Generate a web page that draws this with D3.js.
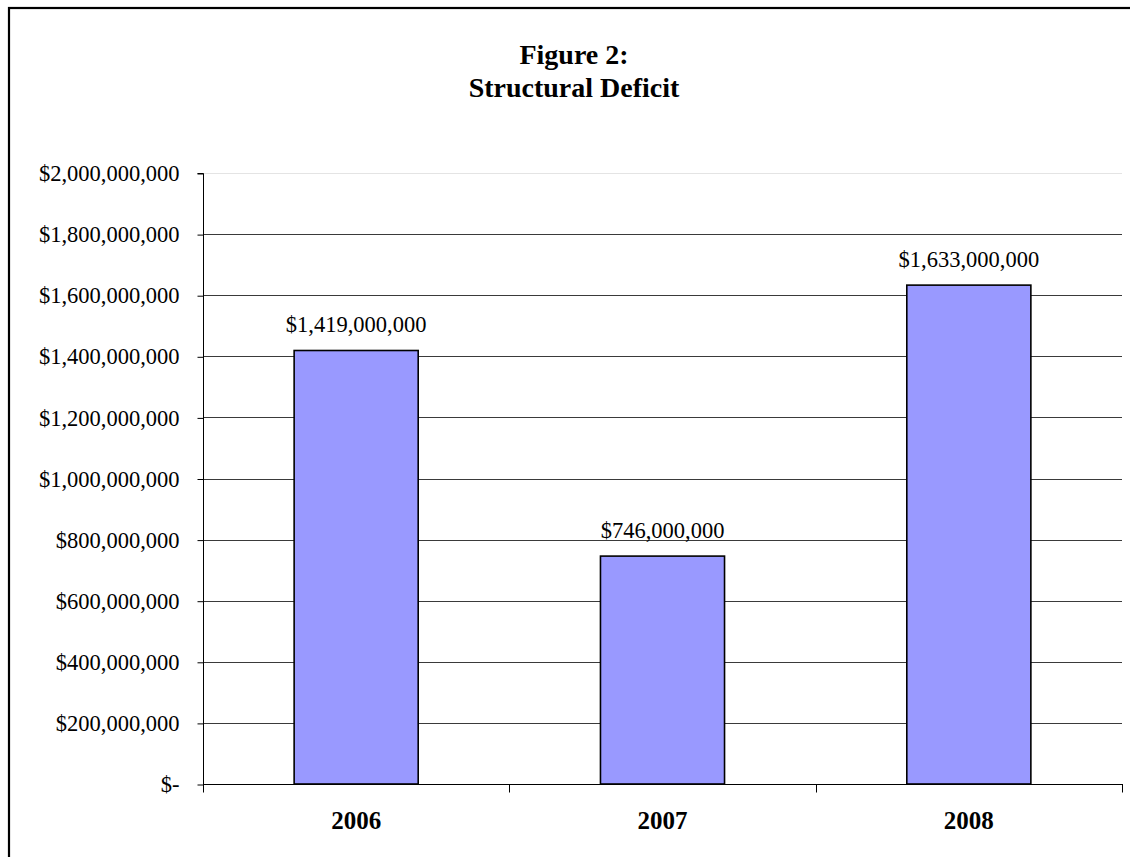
<!DOCTYPE html>
<html>
<head>
<meta charset="utf-8">
<script src="https://cdn.jsdelivr.net/npm/d3@7"></script>
<style>
html, body { margin: 0; padding: 0; background: #fff; }
svg { display: block; }
</style>
</head>
<body>
<svg id="chart" width="1130" height="857"></svg>
<script>
const categories = ["2006", "2007", "2008"];
const values = [1419000000, 746000000, 1633000000];
const valueLabels = ["$1,419,000,000", "$746,000,000", "$1,633,000,000"];
const yTickValues = [0, 200000000, 400000000, 600000000, 800000000, 1000000000, 1200000000, 1400000000, 1600000000, 1800000000, 2000000000];
const yTickLabels = ["$-", "$200,000,000", "$400,000,000", "$600,000,000", "$800,000,000", "$1,000,000,000", "$1,200,000,000", "$1,400,000,000", "$1,600,000,000", "$1,800,000,000", "$2,000,000,000"];
const titleLines = ["Figure 2:", "Structural Deficit"];

const svg = d3.select("#chart");
const font = "'Liberation Serif', 'Times New Roman', serif";

// outer border
svg.append("rect").attr("x", 9).attr("y", 8).attr("width", 1140).attr("height", 900)
  .attr("fill", "none").attr("stroke", "#000").attr("stroke-width", 2.2);

const pLeft = 203, pRight = 1122, pTop = 173, pBottom = 784;
const x = d3.scaleBand().domain(categories).range([pLeft, pRight]).paddingInner(0.595).paddingOuter(0.2975);
const xb = d3.scaleBand().domain(categories).range([pLeft, pRight]);
const y = d3.scaleLinear().domain([0, 2000000000]).range([pBottom, pTop]);

// title
svg.append("g").selectAll("text").data(titleLines).join("text")
  .attr("x", 574).attr("y", (d, i) => 64 + i * 33)
  .attr("text-anchor", "middle")
  .style("font-family", font).style("font-weight", "bold").style("font-size", "28px")
  .text(d => d);

// gridlines
svg.append("g").selectAll("line").data(yTickValues.filter(v => v > 0)).join("line")
  .attr("x1", pLeft).attr("x2", pRight)
  .attr("y1", d => Math.round(y(d)) + 0.5).attr("y2", d => Math.round(y(d)) + 0.5)
  .attr("stroke", d => d === 2000000000 ? "#e4e4e4" : "#3a3a3a").attr("stroke-width", 1);

// y axis
const yAxis = d3.axisLeft(y).tickValues(yTickValues).tickSize(6).tickPadding(18)
  .tickFormat((d, i) => yTickLabels[i]);
const gy = svg.append("g").attr("transform", `translate(${pLeft + 0.5},0)`).call(yAxis);
gy.select(".domain").attr("stroke", "#000").attr("d", `M-6,${pTop + 0.5}H0V${pBottom + 8}`);
gy.selectAll(".tick line").attr("stroke", "#000").attr("transform", "translate(0,0.5)");
gy.selectAll(".tick text").style("font-family", font).style("font-size", "22.5px").attr("fill", "#000")
  .attr("dy", "0.34em");

// bars
svg.append("g").selectAll("rect").data(values).join("rect")
  .attr("x", (d, i) => x(categories[i]))
  .attr("y", d => y(d))
  .attr("width", x.bandwidth())
  .attr("height", d => pBottom - y(d))
  .attr("fill", "#9999ff").attr("stroke", "#000").attr("stroke-width", 1.6);

// x axis
const xAxis = d3.axisBottom(xb).tickSize(0).tickPadding(0).tickFormat("");
const gx = svg.append("g").attr("transform", `translate(0,${pBottom + 0.5})`).call(xAxis);
gx.select(".domain").remove();
gx.append("line").attr("x1", pLeft).attr("x2", pRight + 1).attr("y1", 0).attr("y2", 0).attr("stroke", "#000");
const boundaries = categories.map(c => xb(c)).concat([pRight]);
gx.selectAll(".bnd").data(boundaries).join("line").attr("class", "bnd")
  .attr("x1", d => Math.round(d) + 0.5).attr("x2", d => Math.round(d) + 0.5)
  .attr("y1", 0).attr("y2", 8).attr("stroke", "#000");
svg.append("g").selectAll("text").data(categories).join("text")
  .attr("x", d => xb(d) + xb.bandwidth() / 2).attr("y", 829)
  .attr("text-anchor", "middle")
  .style("font-family", font).style("font-weight", "bold").style("font-size", "25px")
  .text(d => d);

// value labels
svg.append("g").selectAll("text").data(values).join("text")
  .attr("x", (d, i) => x(categories[i]) + x.bandwidth() / 2)
  .attr("y", d => y(d) - 18)
  .attr("text-anchor", "middle")
  .style("font-family", font).style("font-size", "22.5px")
  .text((d, i) => valueLabels[i]);
</script>
</body>
</html>
